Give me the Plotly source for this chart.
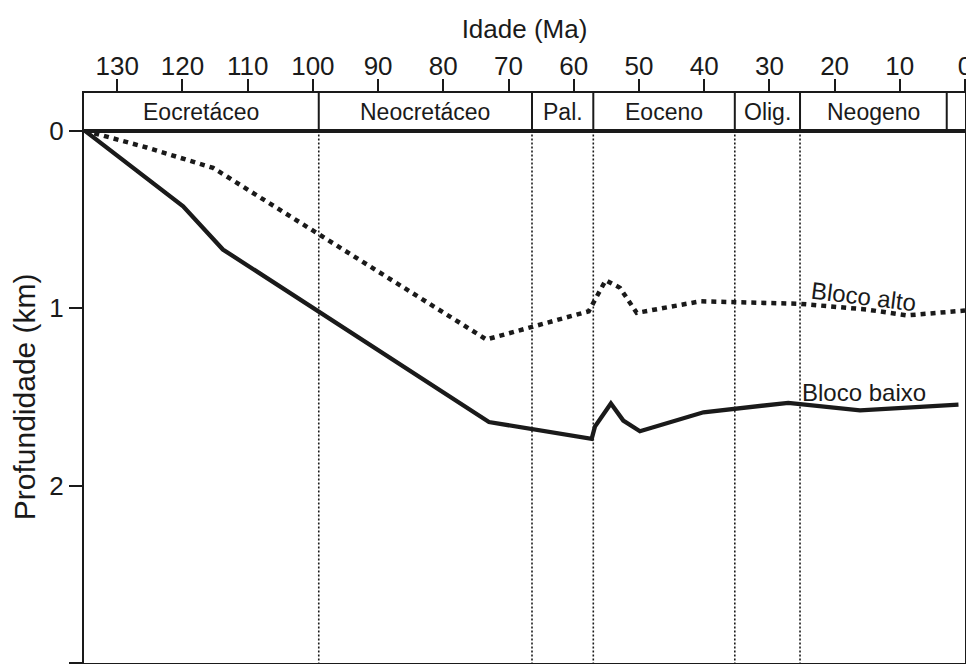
import plotly.graph_objects as go

# ---- data ----
baixo_age = [135.0, 119.9, 113.8, 73.0, 57.25, 56.75, 54.3, 52.4, 49.85, 40.1, 27.1, 16.1, 1.0]
baixo_depth = [0.0, 0.426, 0.670, 1.642, 1.737, 1.668, 1.538, 1.634, 1.694, 1.587, 1.534, 1.576, 1.544]

alto_age = [135.0, 125.5, 115.3, 73.4, 57.7, 55.1, 52.9, 50.35, 40.6, 25.3, 15.1, 8.9, 0.0]
alto_depth = [0.0, 0.095, 0.210, 1.177, 1.018, 0.843, 0.886, 1.027, 0.962, 0.976, 1.008, 1.041, 1.014]

period_names = ["Eocretáceo", "Neocretáceo", "Pal.", "Eoceno", "Olig.", "Neogeno", ""]
period_start = [135.1, 99.1, 66.4, 57.0, 35.3, 25.3, 2.8]
period_end = [99.1, 66.4, 57.0, 35.3, 25.3, 2.8, 0.0]
dotted_boundaries = [99.1, 66.4, 57.0, 35.3, 25.3]

age_ticks = [130, 120, 110, 100, 90, 80, 70, 60, 50, 40, 30, 20, 10, 0]
depth_ticks = [0, 1, 2, 3]

FONT = "Arial, Liberation Sans, sans-serif"
INK = "#1a1a1a"

fig = go.Figure()

fig.add_trace(go.Scatter(x=alto_age, y=alto_depth, mode="lines", name="Bloco alto",
                         line=dict(color=INK, width=4.5, dash="5px,5px"),
                         xaxis="x", yaxis="y", showlegend=False))
fig.add_trace(go.Scatter(x=baixo_age, y=baixo_depth, mode="lines", name="Bloco baixo",
                         line=dict(color=INK, width=4.3),
                         xaxis="x", yaxis="y", showlegend=False))

shapes = []
for b in dotted_boundaries:
    shapes.append(dict(type="line", xref="x", yref="y", x0=b, x1=b, y0=0, y1=3,
                       line=dict(color=INK, width=1.6, dash="2px,2px"), layer="below"))
for s in period_start[1:]:
    shapes.append(dict(type="line", xref="x2", yref="y2", x0=s, x1=s, y0=0, y1=1,
                       line=dict(color=INK, width=2)))
annotations = []
for name, s, e in zip(period_names, period_start, period_end):
    if name:
        annotations.append(dict(x=(s + e) / 2, y=0.5, xref="x2", yref="y2", text=name,
                                showarrow=False, font=dict(family=FONT, size=23, color=INK)))
annotations.append(dict(x=15.5, y=0.935, xref="x", yref="y", text="Bloco alto", showarrow=False,
                        textangle=7, font=dict(family=FONT, size=24, color=INK)))
annotations.append(dict(x=15.5, y=1.476, xref="x", yref="y", text="Bloco baixo", showarrow=False,
                        font=dict(family=FONT, size=24, color=INK)))

# the page body has an 8px margin; keep the figure inside the window
main_top = 0.934
fig.update_layout(
    width=966, height=656,
    margin=dict(l=76, r=9, t=85, b=1),
    paper_bgcolor="white", plot_bgcolor="white",
    font=dict(family=FONT, color=INK),
    xaxis=dict(range=[135.1, 0], domain=[0, 1], anchor="y", showticklabels=False,
               ticks="", showgrid=False, zeroline=False, showline=True, linecolor=INK,
               linewidth=2, mirror=True),
    yaxis=dict(range=[3, 0], domain=[0, main_top], anchor="x", tickvals=depth_ticks,
               ticks="outside", ticklen=13, tickwidth=2, tickcolor=INK,
               tickfont=dict(size=26, family=FONT, color=INK),
               showgrid=False, zeroline=False, showline=True, linecolor=INK, linewidth=2,
               mirror=True,
               title=dict(text="Profundidade (km)", font=dict(size=30, family=FONT, color=INK),
                          standoff=12)),
    xaxis2=dict(range=[135.1, 0], domain=[0, 1], anchor="y2", side="top",
                tickvals=age_ticks, ticks="outside", ticklen=12, tickwidth=2, tickcolor=INK,
                tickfont=dict(size=26, family=FONT, color=INK), ticklabelstandoff=-6,
                showgrid=False, zeroline=False, showline=True, linecolor=INK, linewidth=2,
                mirror=True,
                title=dict(text="Idade (Ma)", font=dict(size=26, family=FONT, color=INK),
                           standoff=4)),
    yaxis2=dict(range=[0, 1], domain=[main_top, 1], anchor="x2", showticklabels=False,
                ticks="", showgrid=False, zeroline=False, showline=True, linecolor=INK,
                linewidth=2, mirror=True),
    shapes=shapes,
    annotations=annotations,
)

fig.write_html("out.html")
